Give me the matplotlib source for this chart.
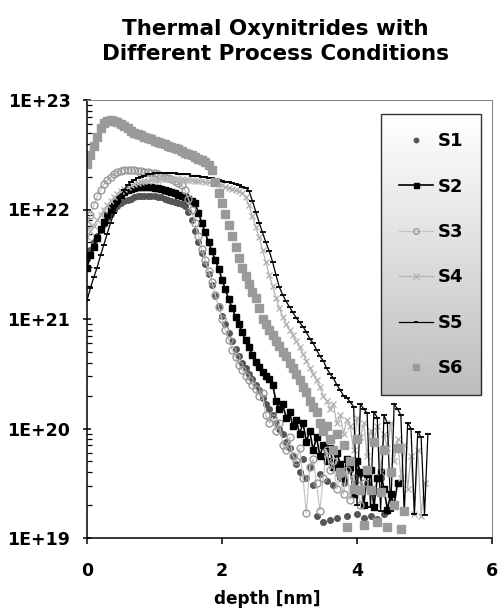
import numpy as np
import matplotlib
matplotlib.use("Agg")
import matplotlib.pyplot as plt
from matplotlib.ticker import LogLocator, NullFormatter

plt.rcParams["font.family"] = ["DejaVu Sans"]
plt.rcParams["font.weight"] = "bold"

STEP = 0.05  # depth step of every profile [nm], first point at 0 nm

# log10(concentration), one value per depth step
s1_log = [21.55, 21.63, 21.70, 21.76, 21.81, 21.87, 21.92, 21.96, 22.00, 22.03,
          22.06, 22.08, 22.09, 22.10, 22.11, 22.12, 22.12, 22.12, 22.12, 22.12,
          22.12, 22.11, 22.11, 22.10, 22.09, 22.08, 22.07, 22.06, 22.05, 22.03,
          21.98, 21.90, 21.80, 21.70, 21.60, 21.50, 21.41, 21.31, 21.21, 21.12,
          21.03, 20.95, 20.87, 20.80, 20.73, 20.66, 20.60, 20.55, 20.50, 20.45,
          20.40, 20.35, 20.28, 20.22, 20.18, 20.12, 20.05, 20.00, 19.95, 19.88,
          19.82, 19.75, 19.68, 19.60, 19.72, 19.55, 19.65, 19.48, 19.20, 19.58,
          19.15, 19.52, 19.16, 19.48, 19.18, 19.55, 19.50, 19.20, 19.62, 19.45,
          19.22, 19.58, 19.18, 19.50, 19.20, 19.42, 19.17, 19.55, 19.22, 19.25,
          19.40]
s2_log = [21.47, 21.58, 21.66, 21.74, 21.82, 21.89, 21.95, 22.01, 22.06, 22.10,
          22.13, 22.16, 22.18, 22.19, 22.20, 22.21, 22.21, 22.21, 22.21, 22.21,
          22.20, 22.20, 22.19, 22.18, 22.17, 22.16, 22.15, 22.13, 22.12, 22.11,
          22.10, 22.08, 22.06, 21.97, 21.88, 21.79, 21.70, 21.62, 21.54, 21.46,
          21.36, 21.27, 21.18, 21.10, 21.02, 20.95, 20.88, 20.81, 20.74, 20.67,
          20.61, 20.56, 20.52, 20.48, 20.45, 20.40, 20.25, 20.18, 20.22, 20.10,
          20.15, 20.02, 20.08, 19.95, 20.05, 19.88, 19.98, 19.80, 19.92, 19.75,
          19.85, 19.70, 19.82, 19.65, 19.78, 19.68, 19.55, 19.72, 19.65, 19.40,
          19.70, 19.60, 19.30, 19.58, 19.62, 19.28, 19.55, 19.60, 19.45, 19.26,
          19.40, 19.30, 19.50]
s3_log = [21.86, 21.95, 22.04, 22.12, 22.18, 22.23, 22.27, 22.30, 22.32, 22.34,
          22.35, 22.36, 22.36, 22.36, 22.36, 22.35, 22.35, 22.34, 22.34, 22.33,
          22.33, 22.32, 22.31, 22.30, 22.29, 22.28, 22.26, 22.24, 22.22, 22.18,
          22.10, 22.00, 21.88, 21.76, 21.64, 21.54, 21.44, 21.34, 21.22, 21.11,
          21.00, 20.90, 20.81, 20.72, 20.65, 20.58, 20.53, 20.48, 20.44, 20.40,
          20.36, 20.30, 20.32, 20.12, 20.05, 20.10, 19.98, 20.05, 19.85, 19.80,
          19.92, 19.75, 19.70, 19.82, 19.55, 19.23, 19.65, 19.72, 19.50, 19.25,
          19.55, 19.80, 19.62, 19.70, 19.45, 19.58, 19.40, 19.62, 19.35, 19.55,
          19.48, 19.30, 19.50]
s4_log = [21.75, 21.80, 21.85, 21.90, 21.95, 22.00, 22.04, 22.08, 22.11, 22.14,
          22.17, 22.19, 22.21, 22.22, 22.23, 22.24, 22.25, 22.26, 22.26, 22.27,
          22.27, 22.27, 22.28, 22.28, 22.28, 22.28, 22.28, 22.28, 22.28, 22.27,
          22.27, 22.27, 22.26, 22.26, 22.26, 22.25, 22.25, 22.24, 22.24, 22.23,
          22.22, 22.21, 22.20, 22.19, 22.18, 22.17, 22.15, 22.11, 22.04, 21.94,
          21.84, 21.75, 21.63, 21.52, 21.40, 21.30, 21.19, 21.10, 21.02, 20.95,
          20.90, 20.85, 20.80, 20.74, 20.68, 20.62, 20.55, 20.50, 20.44, 20.38,
          20.30, 20.25, 20.18, 20.22, 20.05, 20.12, 19.95, 20.08, 20.02, 19.80,
          20.10, 19.92, 20.05, 19.75, 19.98, 19.88, 20.02, 19.60, 19.95, 19.82,
          20.05, 19.70, 19.90, 19.55, 19.85, 19.45, 19.75, 19.22, 19.80, 19.20,
          19.50]
s5_log = [21.17, 21.28, 21.38, 21.47, 21.58, 21.68, 21.78, 21.88, 21.97, 22.05,
          22.12, 22.18, 22.22, 22.25, 22.27, 22.29, 22.30, 22.31, 22.32, 22.32,
          22.33, 22.33, 22.33, 22.33, 22.33, 22.33, 22.33, 22.32, 22.32, 22.32,
          22.32, 22.31, 22.31, 22.31, 22.30, 22.30, 22.29, 22.29, 22.28, 22.27,
          22.26, 22.25, 22.25, 22.24, 22.23, 22.22, 22.21, 22.20, 22.17, 22.08,
          21.98, 21.88, 21.79, 21.70, 21.62, 21.52, 21.40, 21.29, 21.22, 21.16,
          21.11, 21.06, 21.01, 20.97, 20.93, 20.88, 20.82, 20.78, 20.72, 20.66,
          20.62, 20.55, 20.50, 20.46, 20.40, 20.35, 20.30, 20.28, 20.24, 20.20,
          19.30, 20.22, 20.18, 20.14, 19.28, 20.15, 20.10, 19.25, 20.12, 20.05,
          19.25, 20.22, 20.18, 20.12, 19.22, 20.05, 20.00, 19.22, 19.97, 19.92,
          19.21, 19.95]
s6_log = [22.42, 22.50, 22.58, 22.66, 22.74, 22.79, 22.81, 22.82, 22.81, 22.80,
          22.78, 22.76, 22.74, 22.72, 22.70, 22.69, 22.68, 22.66, 22.65, 22.64,
          22.63, 22.62, 22.61, 22.60, 22.58, 22.57, 22.56, 22.55, 22.53, 22.52,
          22.51, 22.50, 22.48, 22.46, 22.45, 22.43, 22.41, 22.36, 22.25, 22.15,
          22.06, 21.96, 21.86, 21.76, 21.66, 21.56, 21.47, 21.39, 21.32, 21.25,
          21.19, 21.10, 21.00, 20.95, 20.90, 20.85, 20.80, 20.75, 20.70, 20.66,
          20.60, 20.55, 20.50, 20.44, 20.38, 20.33, 20.25, 20.20, 20.15, 20.05,
          19.98, 20.02, 19.90, 19.80, 19.95, 19.60, 19.85, 19.10, 19.70, 19.45,
          19.90, 19.44, 19.12, 19.62, 19.44, 19.88, 19.15, 19.42, 19.80, 19.10,
          19.60, 19.30, 19.82, 19.08, 19.25]

series_names = ["S1", "S2", "S3", "S4", "S5", "S6"]
series_logs = [s1_log, s2_log, s3_log, s4_log, s5_log, s6_log]

x_ticks = [0, 2, 4, 6]
x_tick_labels = ["0", "2", "4", "6"]
y_ticks = [1e19, 1e20, 1e21, 1e22, 1e23]
y_tick_labels = ["1E+19", "1E+20", "1E+21", "1E+22", "1E+23"]

styles = {
    "S1": dict(ls="none", marker="o", ms=4, color="#555555", mec="#555555"),
    "S2": dict(ls="-", lw=1.2, marker="s", ms=4.5, color="black"),
    "S3": dict(ls="-", lw=0.9, color="#c4c4c4", marker="o", ms=5, mfc="none",
               mec="#999999", mew=1.0),
    "S4": dict(ls="-", lw=0.9, color="#b4b4b4", marker="x", ms=5, mew=1.0),
    "S5": dict(ls="-", lw=0.9, color="black", marker="_", ms=4, mew=1.3),
    "S6": dict(ls="none", marker="s", ms=5.5, color="#9a9a9a", mec="#9a9a9a"),
}

fig = plt.figure(figsize=(4.98, 6.12), dpi=100)
ax = fig.add_axes([87 / 498, 1 - 538 / 612, 405 / 498, 438 / 612])

for name, logs in zip(series_names, series_logs):
    depth = np.arange(len(logs)) * STEP
    ax.plot(depth, 10 ** np.array(logs), label=name, **styles[name])

ax.set_yscale("log")
ax.set_xlim(0, 6)
ax.set_ylim(1e19, 1e23)
ax.set_xticks(x_ticks)
ax.set_xticklabels(x_tick_labels)
ax.set_yticks(y_ticks)
ax.set_yticklabels(y_tick_labels)
ax.yaxis.set_minor_locator(LogLocator(base=10, subs=np.arange(2, 10), numticks=20))
ax.yaxis.set_minor_formatter(NullFormatter())
ax.tick_params(axis="y", which="major", direction="inout", length=6, width=1.1,
               pad=9, labelsize=12.5)
ax.tick_params(axis="y", which="minor", direction="in", length=3.5, width=0.9)
ax.tick_params(axis="x", which="major", direction="out", length=4, width=1.1,
               pad=13, labelsize=12.5)
for s in ("left", "bottom"):
    ax.spines[s].set_linewidth(1.1)
for s in ("top", "right"):
    ax.spines[s].set_linewidth(0.8)
    ax.spines[s].set_color("#8a8a8a")

ax.set_xlabel("depth [nm]", fontsize=12.2, fontweight="bold")
ax.xaxis.set_label_coords((267 - 87) / 405, (538 - 590) / 438)

fig.text(275 / 498, 1 - 19 / 612,
         "Thermal Oxynitrides with\nDifferent Process Conditions",
         ha="center", va="top", fontsize=15.5, fontweight="bold", linespacing=1.3)

leg = ax.legend(loc="upper left", bbox_to_anchor=(0.726, 0.968), frameon=True,
                fancybox=False, shadow=False, fontsize=13, labelspacing=1.52,
                borderpad=1.0, handlelength=1.9, handletextpad=0.25,
                borderaxespad=0, markerscale=0.8)
frame = leg.get_frame()
frame.set_facecolor("none")
frame.set_edgecolor("black")
frame.set_linewidth(1.0)

# gradient fill behind the legend box
fig.canvas.draw()
bb = frame.get_window_extent().transformed(ax.transAxes.inverted())
grad = np.linspace(0.74, 1.0, 256).reshape(-1, 1)
ax.imshow(grad, cmap="gray", vmin=0, vmax=1, origin="lower", aspect="auto",
          extent=(bb.x0, bb.x1, bb.y0, bb.y1), transform=ax.transAxes, zorder=4.9)
ax.set_xlim(0, 6)
ax.set_ylim(1e19, 1e23)

fig.savefig("out.png", dpi=100)
